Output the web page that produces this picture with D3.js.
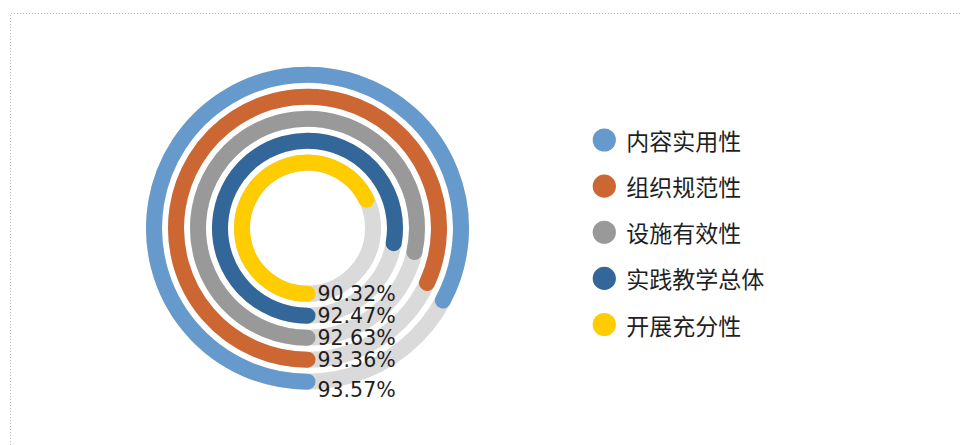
<!DOCTYPE html>
<html>
<head>
<meta charset="utf-8">
<script src="https://cdn.jsdelivr.net/npm/d3@7/dist/d3.min.js"></script>
<style>
  html, body { margin: 0; padding: 0; background: #ffffff; }
  svg { display: block; }
</style>
</head>
<body>
<svg id="chart" width="960" height="445"></svg>
<script>
// Satisfaction indicators, outermost ring first
const categories = ["内容实用性", "组织规范性", "设施有效性", "实践教学总体", "开展充分性"];
const values = [93.57, 93.36, 92.63, 92.47, 90.32];
const colors = ["#6699cc", "#cc6633", "#999999", "#336699", "#ffcc00"];
const valueLabels = ["93.57%", "93.36%", "92.63%", "92.47%", "90.32%"];

const W = 960, H = 445;
const svg = d3.select("#chart");

// frame
svg.append("path")
  .attr("d", `M10.5,${H} V13.5 H${W}`)
  .attr("fill", "none")
  .attr("stroke", "#bdbdbd")
  .attr("stroke-width", 1)
  .attr("stroke-dasharray", "1,2");

const cx = 307.5, cy = 228.2;
const ringWidth = 16;

// ring radius by category (centre-line radius)
const rScale = d3.scalePoint()
  .domain(categories)
  .range([153.5, 65.5]);

// sweep angle, clockwise from 6 o'clock
const angle = d3.scaleLinear()
  .domain([75.6, 97.3])
  .range([0, 2 * Math.PI]);

const g = svg.append("g");
const start = Math.PI / 2; // bottom, in canvas angle convention

function arcPath(r, a0, a1) {
  const p = d3.path();
  p.arc(cx, cy, r, a0, a1, false);
  return p.toString();
}

// background tracks
g.selectAll("circle.track")
  .data(categories)
  .join("circle")
  .attr("class", "track")
  .attr("cx", cx)
  .attr("cy", cy)
  .attr("r", d => rScale(d))
  .attr("fill", "none")
  .attr("stroke", "#dadada")
  .attr("stroke-width", ringWidth);

// value arcs
g.selectAll("path.bar")
  .data(categories)
  .join("path")
  .attr("class", "bar")
  .attr("d", (d, i) => arcPath(rScale(d), start, start + angle(values[i])))
  .attr("fill", "none")
  .attr("stroke", (d, i) => colors[i])
  .attr("stroke-width", ringWidth)
  .attr("stroke-linecap", "round");

// value labels at the start of each ring
g.selectAll("text.val")
  .data(categories)
  .join("text")
  .attr("class", "val")
  .attr("x", cx + 10)
  .attr("y", (d, i) => cy + rScale(d) + (i === 0 ? 8 : 0))
  .attr("dominant-baseline", "central")
  .attr("font-family", "'DejaVu Sans', sans-serif")
  .attr("font-size", 20.5)
  .attr("fill", "#1f1f1f")
  .text((d, i) => valueLabels[i]);

// legend
const legendY = d3.scalePoint()
  .domain(categories)
  .range([140, 324.5]);

const lg = svg.append("g");
const items = lg.selectAll("g")
  .data(categories)
  .join("g")
  .attr("transform", d => `translate(604.3,${legendY(d)})`);

items.append("circle")
  .attr("r", 11.6)
  .attr("fill", (d, i) => colors[i]);

items.append("text")
  .attr("x", 22)
  .attr("dominant-baseline", "central")
  .attr("font-family", "'Noto Sans CJK SC', sans-serif")
  .attr("font-size", 23)
  .attr("fill", "#1f1f1f")
  .text(d => d);
</script>
</body>
</html>
